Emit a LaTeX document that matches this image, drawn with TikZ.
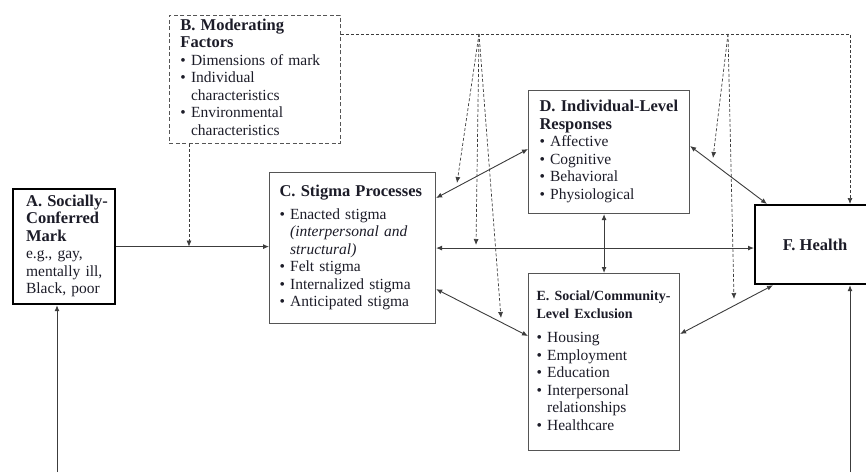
\documentclass[tikz,border=0pt]{standalone}
\usepackage{fontspec}
\setmainfont{Liberation Serif}
\usetikzlibrary{arrows.meta}

\definecolor{ink}{RGB}{28,28,40}
\definecolor{boxgray}{RGB}{85,85,85}
\definecolor{linkgray}{RGB}{60,60,60}

\newcommand{\hd}[1]{{\fontsize{16.5}{17.5}\selectfont\bfseries #1}}
\newcommand{\bl}{\textbullet\ }
\newcommand{\ind}{\hphantom{\textbullet\ }}

\tikzset{
  panel/.style={draw=boxgray, line width=1.1pt, rectangle, anchor=north west, inner ysep=0pt,
    text=ink, align=left, font=\fontsize{15.5}{17.5}\selectfont},
  markbox/.style={panel, draw=black, line width=2.2pt},
  modbox/.style={panel, line width=0.9pt, dash pattern=on 4pt off 2.5pt},
  link/.style={linkgray, line width=0.9pt, {Latex[length=6pt,width=5pt]}-{Latex[length=6pt,width=5pt]}},
  oneway/.style={linkgray, line width=0.9pt, -{Latex[length=6pt,width=5pt]}},
  moder/.style={linkgray, line width=0.7pt, dash pattern=on 3pt off 2pt, -{Latex[length=6pt,width=5pt]}}
}

\begin{document}
\begin{tikzpicture}[x=1pt, y=-1pt]
\useasboundingbox (0,0) rectangle (866,472);

% Stages
\node[markbox, minimum height=115pt, inner xsep=13pt, text width=76pt] (mark) at (12,188)
  {\begin{tabular}{@{}l@{}}\hd{A. Socially-}\\ \hd{Conferred}\\ \hd{Mark}\\ e.g., gay,\\ mentally ill,\\ Black, poor\end{tabular}};
\node[modbox, minimum height=128pt, inner xsep=11pt, text width=149pt] (mod) at (169,15)
  {\begin{tabular}{@{}l@{}}\hd{B. Moderating}\\ \hd{Factors}\\ \bl Dimensions of mark\\ \bl Individual\\ \ind characteristics\\ \bl Environmental\\ \ind characteristics\end{tabular}};
\node[panel, minimum height=151pt, inner xsep=10pt, text width=146pt] (proc) at (269,172)
  {\begin{tabular}{@{}l@{}}\hd{C. Stigma Processes}\\[5pt] \bl Enacted stigma\\ \ind\textit{(interpersonal and}\\ \ind\textit{structural)}\\ \bl Felt stigma\\ \bl Internalized stigma\\ \bl Anticipated stigma\end{tabular}};
\node[panel, minimum height=123pt, inner xsep=11pt, text width=139pt] (indiv) at (528,90)
  {\begin{tabular}{@{}l@{}}\hd{D. Individual-Level}\\ \hd{Responses}\\ \bl Affective\\ \bl Cognitive\\ \bl Behavioral\\ \bl Physiological\end{tabular}};
\node[panel, minimum height=177pt, inner xsep=8pt, text width=135pt] (social) at (528,273)
  {\begin{tabular}{@{}l@{}}{\fontsize{14}{17}\selectfont\bfseries E. Social/Community-}\\ {\fontsize{14}{17}\selectfont\bfseries Level Exclusion}\\[7pt] \bl Housing\\ \bl Employment\\ \bl Education\\ \bl Interpersonal\\ \ind relationships\\ \bl Healthcare\end{tabular}};
\node[markbox, minimum width=120pt, minimum height=79pt, align=center] (health) at (754,204) {\hd{F. Health}};

% Links between stages
\draw[oneway] (mark.east) -- (mark.east -| proc.west);
\draw[link] ([yshift=-26pt]proc.north east) -- ([yshift=-59pt]indiv.north west);
\draw[link] (proc.east) -- (proc.east -| health.west);
\draw[link] ([yshift=35pt]proc.south east) -- ([yshift=-63pt]social.north west);
\draw[link] ([yshift=-56pt]indiv.north east) -- ([xshift=13pt]health.north west);
\draw[link] ([yshift=-61pt]social.north east) -- ([xshift=19pt]health.south west);
\draw[link] (social.north) -- (social.north |- indiv.south);

% Feeds from below
\coordinate (abot) at (57,472);
\coordinate (fbot) at (850,472);
\draw[oneway] (abot) -- (abot |- mark.south);
\draw[oneway] (fbot) -- (fbot |- health.south);

% Moderating paths
\coordinate (bout) at ([yshift=-19pt]mod.north east);
\coordinate (bturn) at (bout -| fbot);
\coordinate (bdown) at ([xshift=20pt]mod.south west);
\draw[moder] (bout) -- (bturn) -- (bturn |- health.north);
\draw[moder] (bdown) -- (bdown |- mark.east);
\coordinate (fanA) at (479,34);
\coordinate (fanB) at (728,34);
\coordinate (tA1) at (457,183);
\coordinate (tA2) at (476,245);
\coordinate (tA3) at (501,318);
\coordinate (tB1) at (713,158);
\coordinate (tB2) at (734,299);
\foreach \t in {tA1,tA2,tA3} \draw[moder] (fanA) -- (\t);
\foreach \t in {tB1,tB2} \draw[moder] (fanB) -- (\t);
\end{tikzpicture}
\end{document}
